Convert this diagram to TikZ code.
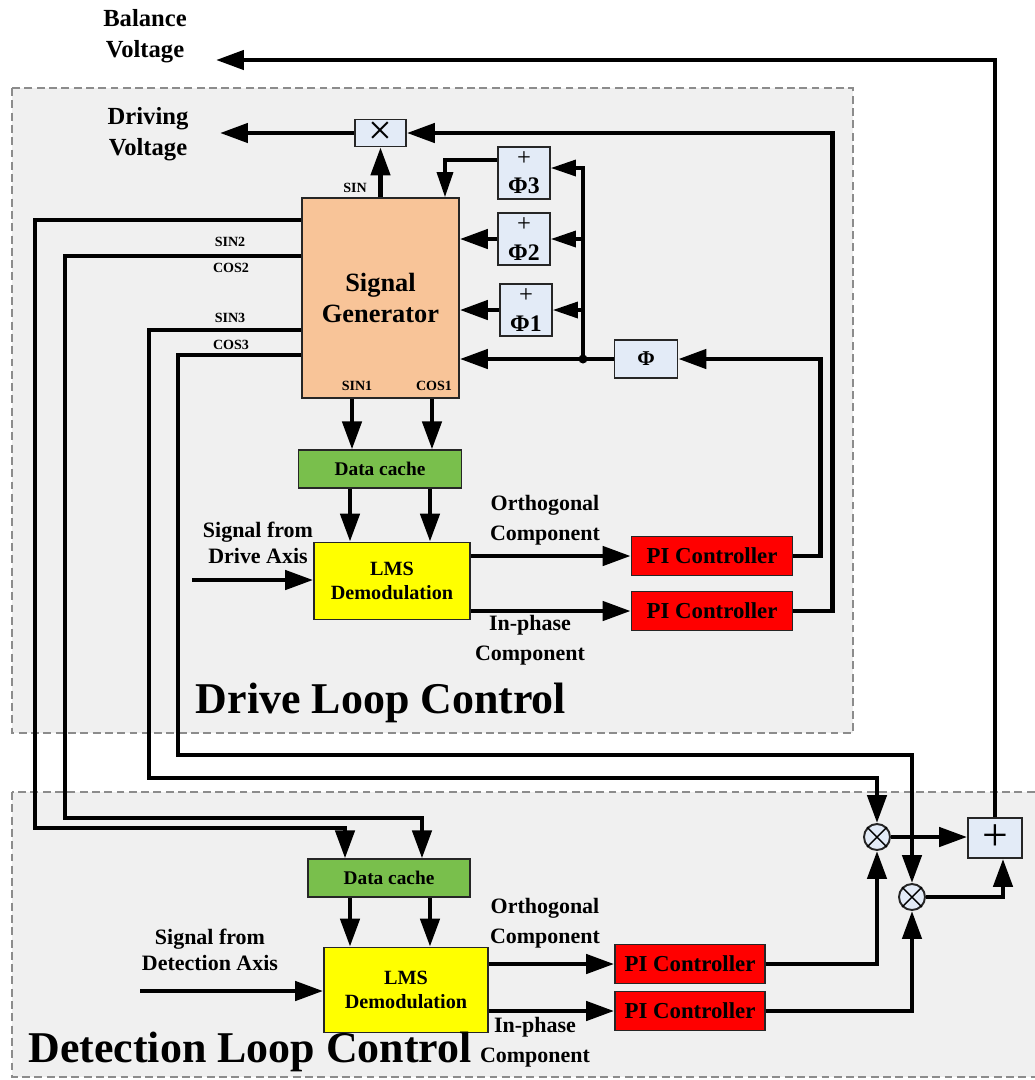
\documentclass[tikz,border=0pt]{standalone}
\usepackage{fontspec}
\setmainfont{Liberation Serif}
\usetikzlibrary{arrows.meta, calc, positioning}

\definecolor{regiongray}{HTML}{F0F0F0}
\definecolor{regionedge}{HTML}{8C8C8C}
\definecolor{opblue}{HTML}{E3EBF7}
\definecolor{genpeach}{HTML}{F8C498}
\definecolor{cachegreen}{HTML}{79BF4C}
\definecolor{lmsyellow}{HTML}{FFFF00}
\definecolor{pired}{HTML}{FF0000}

\begin{document}
\begin{tikzpicture}[x=0.02cm, y={(0,-0.02cm)}, >={Triangle[length=0.56cm,width=0.38cm]},
    region/.style={draw=regionedge, fill=regiongray, line width=0.9pt, dash pattern=on 4.5pt off 2.5pt},
    block/.style={draw=black!85, line width=1pt, inner sep=0pt, align=center},
    gen/.style={block, fill=genpeach, minimum width=3.14cm, minimum height=4cm, font=\fontsize{15}{17.6}\selectfont\bfseries},
    cache/.style={block, fill=cachegreen, minimum width=3.26cm, minimum height=0.75cm, font=\fontsize{11}{13}\selectfont\bfseries},
    lms/.style={block, fill=lmsyellow, font=\fontsize{11.5}{14}\selectfont\bfseries},
    pictrl/.style={block, fill=pired, minimum height=0.78cm, font=\fontsize{13}{15}\selectfont\bfseries},
    shifter/.style={block, fill=opblue, minimum width=1.04cm, minimum height=1.04cm, font=\fontsize{13.5}{16}\selectfont\bfseries},
    opbox/.style={block, fill=opblue},
    mixer/.style={draw=black!85, circle, fill=opblue, minimum size=0.52cm, inner sep=0pt, line width=1.1pt},
    lbl/.style={font=\fontsize{12.5}{17}\selectfont\bfseries, align=center, inner sep=0pt},
    port/.style={font=\fontsize{8}{9}\selectfont\bfseries, inner sep=0pt},
    side/.style={font=\fontsize{14}{18}\selectfont\bfseries, align=center, inner sep=0pt},
    title/.style={font=\fontsize{25}{30}\selectfont\bfseries, inner sep=0pt},
    wire/.style={line width=2.6pt, ->},
    thinwire/.style={line width=1.9pt, -{Triangle[length=0.5cm,width=0.32cm]}}
]
    \useasboundingbox (0,0) rectangle (1035,1080);
    \fill[white] (0,0) rectangle (1035,1080);
    \draw[region] (12,88) rectangle (853,733); % drive loop
    \draw[region] (12,792) rectangle (1050,1077); % detection loop

    % Drive loop blocks
    \node[gen] (sg) at (380.5,298) {Signal\\Generator};
    \node[opbox, minimum width=1.02cm, minimum height=0.54cm, font=\fontsize{24}{20}\selectfont] (mul) at (380.5,133) {×};
    \node[shifter] (phic) at (524,173) {{\mdseries\fontsize{14}{12}\selectfont +}\\Φ3};
    \node[shifter] (phib) at (524,239) {{\mdseries\fontsize{14}{12}\selectfont +}\\Φ2};
    \node[shifter] (phia) at (526,310) {{\mdseries\fontsize{14}{12}\selectfont +}\\Φ1};
    \node[opbox, minimum width=1.26cm, minimum height=0.76cm, font=\fontsize{12}{14}\selectfont\bfseries] (phi) at (646,359) {Φ};
    \node[cache] (cacheA) at (380,469) {Data cache};
    \node[lms, minimum width=3.12cm, minimum height=1.54cm] (lmsA) at (392,581) {LMS\\Demodulation};
    \node[pictrl, minimum width=3.22cm] (piA) at (712,556) {PI Controller};
    \node[pictrl, minimum width=3.22cm] (piB) at (712,611) {PI Controller};

    % Detection loop blocks
    \node[cache, minimum width=3.24cm] (cacheB) at (389,878) {Data cache};
    \node[lms, minimum width=3.28cm, minimum height=1.7cm] (lmsB) at (406,990) {LMS\\Demodulation};
    \node[pictrl, minimum width=3cm] (piC) at (690,964) {PI Controller};
    \node[pictrl, minimum width=3cm] (piD) at (690,1011) {PI Controller};
    \node[mixer] (mxA) at (877,837) {};
    \node[mixer] (mxB) at (912,897) {};
    \node[opbox, minimum width=1.08cm, minimum height=0.8cm, font=\fontsize{26}{20}\selectfont] (sum) at (995,838) {+};
    \foreach \m in {mxA,mxB}
        \draw[line width=0.8pt] (\m.north east) -- (\m.south west) (\m.north west) -- (\m.south east);

    % Labels
    \node[side] (bv) at (145,36) {Balance\\Voltage};
    \node[side] (dv) at (148,134) {Driving\\Voltage};
    \node[port] (lsin) at (355,188) {SIN};
    \node[port] (lsinA) at (357,386) {SIN1};
    \node[port] (lcosA) at (434,386) {COS1};
    \node[port] (lsinB) at (230,242) {SIN2};
    \node[port] (lcosB) at (231,268) {COS2};
    \node[port] (lsinC) at (230,318) {SIN3};
    \node[port] (lcosC) at (231,345) {COS3};
    \node[lbl, font=\fontsize{12.5}{14.7}\selectfont\bfseries] (dsig) at (258,543) {Signal from\\Drive Axis};
    \node[lbl] (dorth) at (545,520) {Orthogonal\\Component};
    \node[lbl] (dinph) at (530,640) {In-phase\\Component};
    \node[lbl, font=\fontsize{12.5}{14.7}\selectfont\bfseries] (xsig) at (210,950) {Signal from\\Detection Axis};
    \node[lbl] (xorth) at (545,923) {Orthogonal\\Component};
    \node[lbl] (xinph) at (535,1042) {In-phase\\Component};
    \node[title] (dtitle) at (381,703) {Drive Loop Control};
    \node[title] (xtitle) at (250,1052) {Detection Loop Control};

    % Outputs
    \coordinate (bvEnd) at (216,60);
    \coordinate (dvEnd) at (220,133);
    \draw[wire] (sum.north) |- (bvEnd);
    \draw[wire] (mul.west) -- (dvEnd);
    \draw[wire] (mul |- sg.north) -- (mul.south);
    \draw[wire] (piB.east) -- ++(39,0) |- (mul.east);
    \draw[wire] (piA.east) -- ++(27,0) |- (phi.east);

    % Phase shifters
    \coordinate (jn) at (583,359);
    \draw[wire] (phi.west) -- (phi.west -| sg.east);
    \fill (jn) circle (4.5);
    \draw[thinwire] (jn) |- ([yshift=0.1cm]phic.east);
    \draw[thinwire] (jn |- phib.east) -- (phib.east);
    \draw[thinwire] (jn |- phia.east) -- (phia.east);
    \draw[wire] (phib.west) -- (phib.west -| sg.east);
    \draw[wire] (phia.west) -- (phia.west -| sg.east);
    \draw[thinwire] ([yshift=0.26cm]phic.west) -| ([xshift=1.29cm]sg.north);

    % Drive demodulation
    \draw[wire] ([xshift=-0.57cm]sg.south) coordinate (s1) -- (s1 |- cacheA.north);
    \draw[wire] ([xshift=1.03cm]sg.south) coordinate (c1) -- (c1 |- cacheA.north);
    \draw[wire] ([xshift=-0.6cm]cacheA.south) coordinate (s1b) -- (s1b |- lmsA.north);
    \draw[wire] ([xshift=1cm]cacheA.south) coordinate (c1b) -- (c1b |- lmsA.north);
    \coordinate (dIn) at (192,580);
    \draw[wire] (dIn) -- (dIn -| lmsA.west);
    \draw[wire] (lmsA.east |- piA.west) -- (piA.west);
    \draw[wire] (lmsA.east |- piB.west) -- (piB.west);

    % Reference signals to detection loop
    \draw[wire] (sg.west |- 0,220) -| (35,828) -| ([xshift=-0.88cm]cacheB.north);
    \draw[wire] (sg.west |- 0,256) -| (65,818) -| ([xshift=0.66cm]cacheB.north);
    \draw[wire] (sg.west |- 0,330) -| (149,778) -| (mxA.north);
    \draw[wire] (sg.west |- 0,355) -| (178,755) -| (mxB.north);

    % Detection demodulation
    \draw[wire] ([xshift=-0.78cm]cacheB.south) coordinate (s2b) -- (s2b |- lmsB.north);
    \draw[wire] ([xshift=0.82cm]cacheB.south) coordinate (c2b) -- (c2b |- lmsB.north);
    \coordinate (xIn) at (140,991);
    \draw[wire] (xIn) -- (xIn -| lmsB.west);
    \draw[wire] (lmsB.east |- piC.west) -- (piC.west);
    \draw[wire] (lmsB.east |- piD.west) -- (piD.west);
    \draw[wire] (piC.east) -| (mxA.south);
    \draw[wire] (piD.east) -| (mxB.south);
    \draw[wire] (mxA.east) -- (mxA.east -| sum.west);
    \draw[wire] (mxB.east) -| ([xshift=0.16cm]sum.south);
\end{tikzpicture}
\end{document}
